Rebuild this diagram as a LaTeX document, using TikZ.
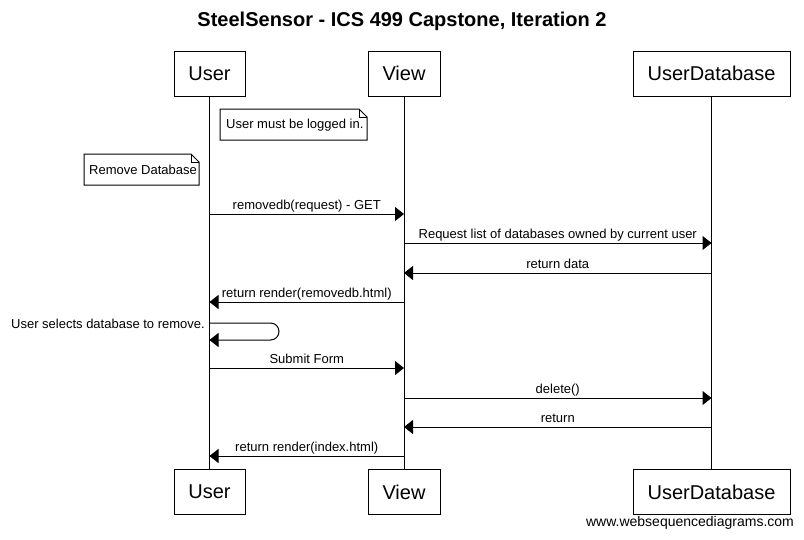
\documentclass[tikz,border=0pt]{standalone}
\usepackage{fontspec}
\setmainfont{Liberation Sans}
\usetikzlibrary{arrows.meta,calc}
\begin{document}
\begin{tikzpicture}[x=1pt,y=-1pt,
  actor/.style={draw,line width=1pt,minimum height=45pt,inner sep=0pt,font=\fontsize{20}{24}\selectfont},
  msg/.style={line width=1pt,-{Triangle[length=9pt,width=14pt]}},
  life/.style={line width=1pt},
  lbl/.style={font=\fontsize{13}{15}\selectfont,inner sep=0pt,anchor=base},
  notebox/.style={font=\fontsize{13}{15}\selectfont,inner sep=0pt}]
\useasboundingbox (0,0) rectangle (804,539);
\node[font=\bfseries\fontsize{20}{24}\selectfont] (title) at (402,21) {SteelSensor - ICS 499 Capstone, Iteration 2};
% actors top
\node[actor,minimum width=71pt] (u1) at (209.5,73.5) {User};
\node[actor,minimum width=72pt] (v1) at (404,73.5) {View};
\node[actor,minimum width=157pt] (d1) at (711.5,73.5) {UserDatabase};
% actors bottom
\node[actor,minimum width=71pt] (u2) at (209.5,492) {User};
\node[actor,minimum width=72pt] (v2) at (404,492) {View};
\node[actor,minimum width=157pt] (d2) at (711.5,492) {UserDatabase};
\draw[life] (u1.south) -- (u2.north);
\draw[life] (v1.south) -- (v2.north);
\draw[life] (d1.south) -- (d2.north);
% notes
\draw[line width=1pt] (220,109) -- (359,109) -- (367,117) -- (367,140) -- (220,140) -- cycle;
\draw[line width=1pt] (359,109) -- (359,117) -- (367,117);
\node[notebox,anchor=west] (n1) at (226,125) {User must be logged in.};
\draw[line width=1pt] (84,154) -- (191,154) -- (199,162) -- (199,185) -- (84,185) -- cycle;
\draw[line width=1pt] (191,154) -- (191,162) -- (199,162);
\node[notebox,anchor=west] (n2) at (89,170) {Remove Database};
% messages
\coordinate (m1a) at (u1.south |- 0,214); \coordinate (m1b) at (v1.south |- 0,214);
\draw[msg] (m1a) -- (m1b) node[lbl,midway,yshift=5pt] {removedb(request) - GET};
\coordinate (m2a) at (v1.south |- 0,243); \coordinate (m2b) at (d1.south |- 0,243);
\draw[msg] (m2a) -- (m2b) node[lbl,midway,yshift=5pt] {Request list of databases owned by current user};
\coordinate (m3a) at (d1.south |- 0,273); \coordinate (m3b) at (v1.south |- 0,273);
\draw[msg] (m3a) -- (m3b) node[lbl,midway,yshift=5pt] {return data};
\coordinate (m4a) at (v1.south |- 0,302); \coordinate (m4b) at (u1.south |- 0,302);
\draw[msg] (m4a) -- (m4b) node[lbl,midway,yshift=5pt] {return render(removedb.html)};
\coordinate (m5a) at (u1.south |- 0,323); \coordinate (m5b) at (u1.south |- 0,340);
\draw[msg] (m5a) -- ++(61,0) arc[start angle=-90,end angle=90,radius=8.5] -- (m5b);
\node[notebox,anchor=base east] (sl) at (205,328) {User selects database to remove.};
\coordinate (m6a) at (u1.south |- 0,368); \coordinate (m6b) at (v1.south |- 0,368);
\draw[msg] (m6a) -- (m6b) node[lbl,midway,yshift=5pt] {Submit Form};
\coordinate (m7a) at (v1.south |- 0,398); \coordinate (m7b) at (d1.south |- 0,398);
\draw[msg] (m7a) -- (m7b) node[lbl,midway,yshift=5pt] {delete()};
\coordinate (m8a) at (d1.south |- 0,427); \coordinate (m8b) at (v1.south |- 0,427);
\draw[msg] (m8a) -- (m8b) node[lbl,midway,yshift=5pt] {return};
\coordinate (m9a) at (v1.south |- 0,456); \coordinate (m9b) at (u1.south |- 0,456);
\draw[msg] (m9a) -- (m9b) node[lbl,midway,yshift=5pt] {return render(index.html)};
\node[font=\fontsize{14}{16}\selectfont,inner sep=0pt] (wsd) at (690,523) {www.websequencediagrams.com};
\end{tikzpicture}
\end{document}
